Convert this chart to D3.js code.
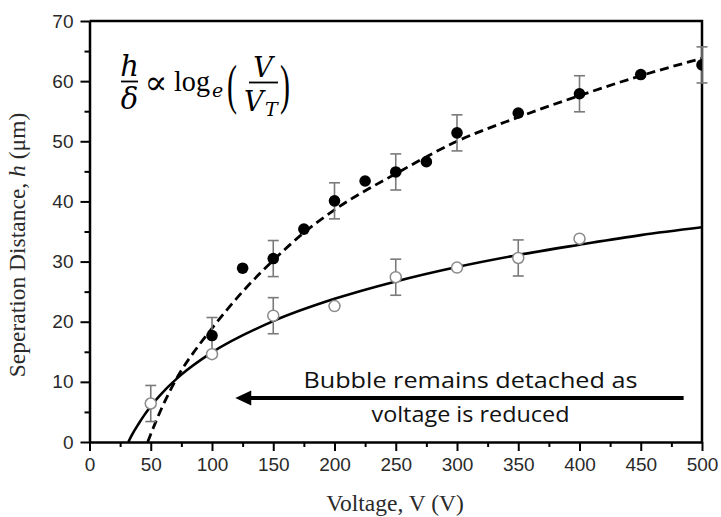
<!DOCTYPE html>
<html>
<head>
<meta charset="utf-8">
<title>Separation distance vs voltage</title>
<script src="https://d3js.org/d3.v7.min.js"></script>
<style>
  body { margin: 0; background: #fff; }
  .tick text { font-family: "Liberation Sans", Arial, sans-serif; font-size: 19px; fill: #2a2a2a; }
  .axis path, .axis line { stroke: #000; }
</style>
</head>
<body>
<div id="chart"></div>
<script>
"use strict"

// measured points (filled = voltage increasing, open = voltage reduced)
var filledV = [100, 125, 150, 175, 200, 225, 250, 275, 300, 350, 400, 450, 500];
var filledH = [17.7, 28.9, 30.5, 35.4, 40.1, 43.4, 44.9, 46.6, 51.4, 54.7, 57.9, 61.1, 62.7];
var filledErr = [3, 0, 3, 0, 3, 0, 3, 0, 3, 0, 3, 0, 3];

var openV = [50, 100, 150, 200, 250, 300, 350, 400];
var openH = [6.4, 14.6, 21.0, 22.6, 27.4, 29.0, 30.6, 33.8];
var openErr = [3, 0, 3, 0, 3, 0, 3, 0];

// fitted curves
var dashV = [47.5, 50, 55, 60, 65, 75, 85, 100, 125, 150, 175, 200, 250, 300, 350, 400, 450, 500];
var dashH = [0, 1.3, 3.8, 6.1, 8.2, 11.9, 14.9, 18.9, 25.0, 30.2, 34.8, 38.6, 44.6, 50.0, 54.0, 57.6, 60.9, 63.8];
var solidV = [31.7, 35, 40, 45, 50, 60, 75, 100, 150, 200, 250, 300, 350, 400, 450, 500];
var solidH = [0, 1.3, 3.0, 4.55, 5.95, 8.3, 11.2, 14.9, 20.1, 23.8, 26.7, 29.1, 31.1, 32.8, 34.4, 35.7];

var xTicks = [0, 50, 100, 150, 200, 250, 300, 350, 400, 450, 500];
var yTicks = [0, 10, 20, 30, 40, 50, 60, 70];

var W = 721, H = 517;
var margem = {top: 21, right: 19, bottom: 75, left: 89.5};
var larg = W - margem.left - margem.right,
    alt = H - margem.top - margem.bottom;

var svg = d3.select("#chart").append("svg")
    .attr("width", W).attr("height", H);
var g = svg.append("g")
    .attr("transform", "translate(" + margem.left + "," + margem.top + ")");

var x = d3.scaleLinear().domain([0, 500]).range([0, larg]);
var y = d3.scaleLinear().domain([0, 70]).range([alt, 0]);

// clip for curves
g.append("clipPath").attr("id", "clip")
  .append("rect").attr("width", larg).attr("height", alt);

// frame (top + right)
g.append("path")
    .attr("d", "M0,0H" + larg + "V" + alt)
    .attr("fill", "none").attr("stroke", "#000").attr("stroke-width", 2.5);

// minor ticks
g.append("g").attr("class", "axis")
    .call(d3.axisLeft(y).tickValues(d3.range(5, 70, 10)).tickSize(5).tickFormat(""))
    .call(a => a.select(".domain").remove())
    .selectAll("line").attr("stroke-width", 2);
g.append("g").attr("class", "axis")
    .attr("transform", "translate(0," + alt + ")")
    .call(d3.axisBottom(x).tickValues(d3.range(25, 500, 50)).tickSize(5).tickFormat(""))
    .call(a => a.select(".domain").remove())
    .selectAll("line").attr("stroke-width", 2);

// major axes
var yAx = g.append("g").attr("class", "axis")
    .call(d3.axisLeft(y).tickValues(yTicks).tickSize(9).tickSizeOuter(0).tickPadding(7));
yAx.select(".domain").attr("stroke-width", 2.5);
yAx.selectAll("line").attr("stroke-width", 2);

var xAx = g.append("g").attr("class", "axis")
    .attr("transform", "translate(0," + alt + ")")
    .call(d3.axisBottom(x).tickValues(xTicks).tickSize(9).tickSizeOuter(0).tickPadding(7));
xAx.select(".domain").attr("stroke-width", 2.5);
xAx.selectAll("line").attr("stroke-width", 2);

// curves
var linha = d3.line().x(d => x(d[0])).y(d => y(d[1])).curve(d3.curveMonotoneX);
g.append("path")
    .datum(solidV.map((v, i) => [v, solidH[i]]))
    .attr("clip-path", "url(#clip)")
    .attr("d", linha).attr("fill", "none")
    .attr("stroke", "#000").attr("stroke-width", 2.6);
g.append("path")
    .datum(dashV.map((v, i) => [v, dashH[i]]))
    .attr("clip-path", "url(#clip)")
    .attr("d", linha).attr("fill", "none")
    .attr("stroke", "#000").attr("stroke-width", 2.8)
    .attr("stroke-dasharray", "9,5");

// error bars
function barras(vs, hs, es) {
  var d = vs.map((v, i) => ({v: v, h: hs[i], e: es[i]})).filter(p => p.e > 0);
  var eb = g.append("g").attr("stroke", "#7a7a7a").attr("stroke-width", 1.6);
  d.forEach(function(p) {
    var cx = x(p.v);
    eb.append("line").attr("x1", cx).attr("x2", cx).attr("y1", y(p.h + p.e)).attr("y2", y(p.h - p.e));
    eb.append("line").attr("x1", cx - 5.5).attr("x2", cx + 5.5).attr("y1", y(p.h + p.e)).attr("y2", y(p.h + p.e));
    eb.append("line").attr("x1", cx - 5.5).attr("x2", cx + 5.5).attr("y1", y(p.h - p.e)).attr("y2", y(p.h - p.e));
  });
}
barras(filledV, filledH, filledErr);
barras(openV, openH, openErr);

// markers
g.append("g").selectAll("circle")
    .data(openV.map((v, i) => [v, openH[i]]))
    .join("circle")
    .attr("cx", d => x(d[0])).attr("cy", d => y(d[1])).attr("r", 5.5)
    .attr("fill", "#fff").attr("stroke", "#8a8a8a").attr("stroke-width", 1.5);
g.append("g").attr("clip-path", "url(#clip)").selectAll("circle")
    .data(filledV.map((v, i) => [v, filledH[i]]))
    .join("circle")
    .attr("cx", d => x(d[0])).attr("cy", d => y(d[1])).attr("r", 5.8)
    .attr("fill", "#000");

// axis titles
var serif = "'Liberation Serif', 'Times New Roman', serif";
svg.append("text")
    .attr("x", 395).attr("y", 511)
    .attr("text-anchor", "middle")
    .style("font-family", serif)
    .style("font-size", "23.5px").style("fill", "#2a2a2a")
    .text("Voltage, V (V)");
svg.append("text")
    .attr("transform", "translate(25,245) rotate(-90)")
    .attr("text-anchor", "middle")
    .style("font-family", serif)
    .style("font-size", "23.5px").style("fill", "#2a2a2a")
    .html("Seperation Distance, <tspan font-style='italic'>h</tspan> (\u03bcm)");

// annotation arrow
var arrowFrom = 485, arrowTo = 119, arrowAt = 7.3;
var ay = y(arrowAt);
g.append("line")
    .attr("x1", x(arrowFrom)).attr("x2", x(arrowTo) + 12)
    .attr("y1", ay).attr("y2", ay)
    .attr("stroke", "#000").attr("stroke-width", 4);
g.append("path")
    .attr("d", "M" + x(arrowTo) + "," + ay + "l16,-7.5v15z")
    .attr("fill", "#000");

var notaFont = "'Open Sans', 'Noto Sans', sans-serif";
g.append("text")
    .attr("x", x(311)).attr("y", y(arrowAt) - 10)
    .attr("text-anchor", "middle")
    .attr("textLength", 334).attr("lengthAdjust", "spacingAndGlyphs")
    .style("font-family", notaFont).style("font-size", "22.5px").style("fill", "#111")
    .text("Bubble remains detached as");
g.append("text")
    .attr("x", x(311)).attr("y", y(arrowAt) + 24)
    .attr("text-anchor", "middle")
    .attr("textLength", 198).attr("lengthAdjust", "spacingAndGlyphs")
    .style("font-family", notaFont).style("font-size", "22.5px").style("fill", "#111")
    .text("voltage is reduced");

// equation h/δ ∝ log_e(V/V_T)
var eq = svg.append("g").style("fill", "#000");
function t(xx, yy, s, size, italic, anchor, fam) {
  return eq.append("text").attr("x", xx).attr("y", yy)
      .attr("text-anchor", anchor || "start")
      .style("font-family", fam || "'DejaVu Serif', serif")
      .style("font-size", size + "px")
      .style("font-style", italic ? "italic" : "normal")
      .text(s);
}
t(129.5, 76, "h", 29, true, "middle");
eq.append("line").attr("x1", 121).attr("x2", 138).attr("y1", 81.5).attr("y2", 81.5)
    .attr("stroke", "#000").attr("stroke-width", 1.8);
t(129.5, 109, "\u03b4", 29, true, "middle");
t(156, 94, "\u221d", 34, false, "middle");
t(174, 91, "log", 30, false, "start", serif).attr("textLength", 36).attr("lengthAdjust", "spacingAndGlyphs");
t(212, 97, "e", 19, true);
eq.append("text").attr("transform", "translate(227,103) scale(1,1.8)")
    .style("font-size", "30px").style("font-family", serif).text("(");
t(263, 77, "V", 27, true, "middle");
eq.append("line").attr("x1", 249).attr("x2", 278).attr("y1", 82.5).attr("y2", 82.5)
    .attr("stroke", "#000").attr("stroke-width", 1.8);
t(244, 111, "V", 27, true);
t(265, 116, "T", 19, true);
eq.append("text").attr("transform", "translate(280,103) scale(1,1.8)")
    .style("font-size", "30px").style("font-family", serif).text(")");
</script>
</body>
</html>
